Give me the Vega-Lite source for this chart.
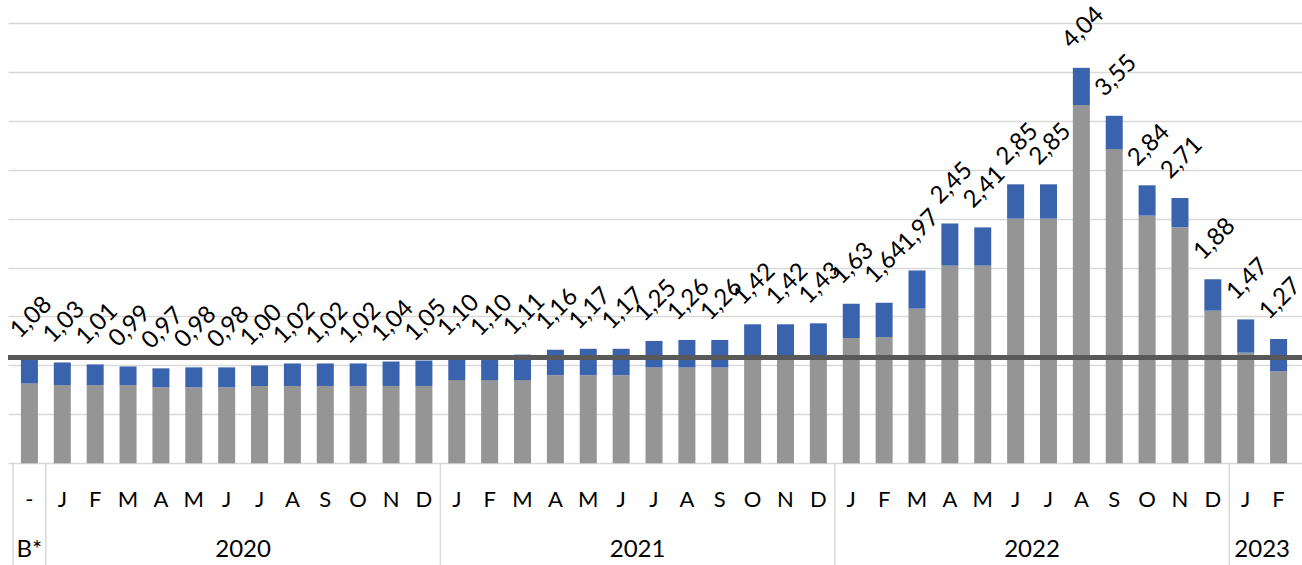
{
  "$schema": "https://vega.github.io/schema/vega-lite/v6.json",
  "autosize": {"type": "none"},
  "width": 1294,
  "height": 565,
  "padding": {"left": 8, "top": 0, "right": 0, "bottom": 0},
  "background": "#ffffff",
  "config": {
    "view": {"stroke": null},
    "locale": {"number": {"decimal": ",", "thousands": ".", "grouping": [3], "currency": ["", " €"]}}
  },
  "datasets": {
    "bars": [
      {"idx": 0, "month": "-", "gray": 0.815, "total": 1.08},
      {"idx": 1, "month": "J", "gray": 0.80, "total": 1.03},
      {"idx": 2, "month": "F", "gray": 0.80, "total": 1.01},
      {"idx": 3, "month": "M", "gray": 0.80, "total": 0.99},
      {"idx": 4, "month": "A", "gray": 0.775, "total": 0.97},
      {"idx": 5, "month": "M", "gray": 0.775, "total": 0.98},
      {"idx": 6, "month": "J", "gray": 0.775, "total": 0.98},
      {"idx": 7, "month": "J", "gray": 0.79, "total": 1.00},
      {"idx": 8, "month": "A", "gray": 0.79, "total": 1.02},
      {"idx": 9, "month": "S", "gray": 0.79, "total": 1.02},
      {"idx": 10, "month": "O", "gray": 0.79, "total": 1.02},
      {"idx": 11, "month": "N", "gray": 0.79, "total": 1.04},
      {"idx": 12, "month": "D", "gray": 0.79, "total": 1.05},
      {"idx": 13, "month": "J", "gray": 0.85, "total": 1.10},
      {"idx": 14, "month": "F", "gray": 0.85, "total": 1.10},
      {"idx": 15, "month": "M", "gray": 0.85, "total": 1.11},
      {"idx": 16, "month": "A", "gray": 0.90, "total": 1.16},
      {"idx": 17, "month": "M", "gray": 0.90, "total": 1.17},
      {"idx": 18, "month": "J", "gray": 0.90, "total": 1.17},
      {"idx": 19, "month": "J", "gray": 0.98, "total": 1.25},
      {"idx": 20, "month": "A", "gray": 0.98, "total": 1.26},
      {"idx": 21, "month": "S", "gray": 0.98, "total": 1.26},
      {"idx": 22, "month": "O", "gray": 1.10, "total": 1.42},
      {"idx": 23, "month": "N", "gray": 1.10, "total": 1.42},
      {"idx": 24, "month": "D", "gray": 1.10, "total": 1.43},
      {"idx": 25, "month": "J", "gray": 1.28, "total": 1.63},
      {"idx": 26, "month": "F", "gray": 1.29, "total": 1.64},
      {"idx": 27, "month": "M", "gray": 1.58, "total": 1.97},
      {"idx": 28, "month": "A", "gray": 2.02, "total": 2.45},
      {"idx": 29, "month": "M", "gray": 2.02, "total": 2.41},
      {"idx": 30, "month": "J", "gray": 2.50, "total": 2.85},
      {"idx": 31, "month": "J", "gray": 2.50, "total": 2.85},
      {"idx": 32, "month": "A", "gray": 3.66, "total": 4.04},
      {"idx": 33, "month": "S", "gray": 3.21, "total": 3.55},
      {"idx": 34, "month": "O", "gray": 2.53, "total": 2.84},
      {"idx": 35, "month": "N", "gray": 2.41, "total": 2.71},
      {"idx": 36, "month": "D", "gray": 1.56, "total": 1.88},
      {"idx": 37, "month": "J", "gray": 1.13, "total": 1.47},
      {"idx": 38, "month": "F", "gray": 0.94, "total": 1.27}
    ],
    "years": [
      {"year": "B*", "mid": 0},
      {"year": "2020", "mid": 6.5},
      {"year": "2021", "mid": 18.5},
      {"year": "2022", "mid": 30.5},
      {"year": "2023", "mid": 37.5}
    ],
    "seps": [
      {"pos": -0.5},
      {"pos": 0.5},
      {"pos": 12.5},
      {"pos": 24.5},
      {"pos": 36.5}
    ]
  },
  "layer": [
    {
      "data": {"name": "bars"},
      "mark": {"type": "rule", "color": "#ffffff", "opacity": 0},
      "encoding": {
        "x": {"field": "idx", "type": "quantitative", "scale": {"domain": [-0.5, 38.56], "nice": false, "zero": false}, "axis": null},
        "y": {"field": "total", "type": "quantitative",
          "scale": {"domain": [-1.039, 4.733], "nice": false, "zero": false},
          "axis": {"values": [0, 0.5, 1, 1.5, 2, 2.5, 3, 3.5, 4, 4.5], "grid": true, "gridColor": "#d9d9d9", "gridWidth": 1.5, "labels": false, "ticks": false, "domain": false, "title": null}}
      }
    },
    {
      "data": {"name": "seps"},
      "mark": {"type": "rule", "color": "#d9d9d9", "strokeWidth": 1.5},
      "encoding": {
        "x": {"field": "pos", "type": "quantitative"},
        "y": {"datum": 0},
        "y2": {"datum": -1.039}
      }
    },
    {
      "data": {"name": "bars"},
      "mark": {"type": "bar", "width": 17, "color": "#959595"},
      "encoding": {
        "x": {"field": "idx", "type": "quantitative"},
        "y": {"field": "gray", "type": "quantitative"},
        "y2": {"datum": 0}
      }
    },
    {
      "data": {"name": "bars"},
      "mark": {"type": "bar", "width": 17, "color": "#3a63ad"},
      "encoding": {
        "x": {"field": "idx", "type": "quantitative"},
        "y": {"field": "total", "type": "quantitative"},
        "y2": {"field": "gray"}
      }
    },
    {
      "data": {"name": "bars"},
      "mark": {"type": "rule", "color": "#595959", "strokeWidth": 4.3},
      "encoding": {
        "y": {"datum": 1.08}
      }
    },
    {
      "data": {"name": "bars"},
      "mark": {"type": "text", "angle": 315, "align": "center", "baseline": "middle", "dx": 29.7, "dy": -26.9, "font": "Lato", "fontSize": 24, "color": "#000000"},
      "encoding": {
        "x": {"field": "idx", "type": "quantitative"},
        "y": {"field": "total", "type": "quantitative"},
        "text": {"field": "total", "type": "quantitative", "format": ".2f"}
      }
    },
    {
      "data": {"name": "bars"},
      "mark": {"type": "text", "align": "center", "baseline": "middle", "font": "Lato", "fontSize": 22, "color": "#000000"},
      "encoding": {
        "x": {"field": "idx", "type": "quantitative"},
        "y": {"datum": -0.375},
        "text": {"field": "month"}
      }
    },
    {
      "data": {"name": "years"},
      "mark": {"type": "text", "align": "center", "baseline": "middle", "font": "Lato", "fontSize": 24, "color": "#000000"},
      "encoding": {
        "x": {"field": "mid", "type": "quantitative"},
        "y": {"datum": -0.886},
        "text": {"field": "year"}
      }
    }
  ]
}
